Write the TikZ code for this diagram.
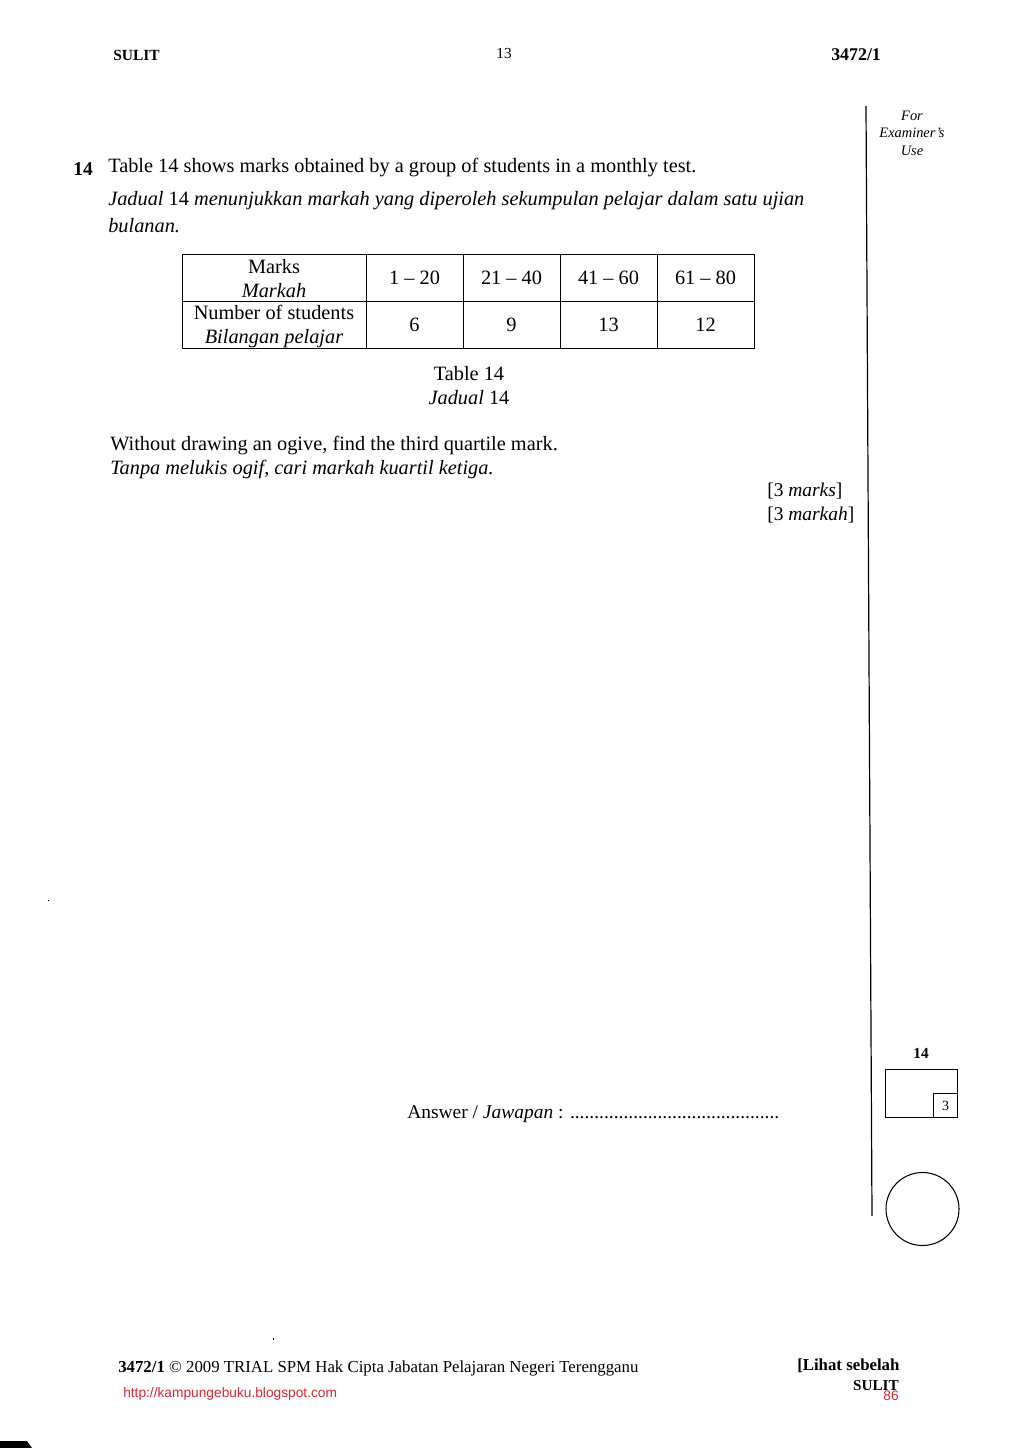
\documentclass[tikz,border=0pt]{standalone}
\usepackage{fontspec}
\setmainfont{Liberation Serif}
\newfontfamily\urlfont{Liberation Sans}
\usetikzlibrary{positioning}
\definecolor{urlred}{RGB}{214,40,50}
\tikzset{
  body/.style={anchor=west,inner sep=0pt,font=\fontsize{15.25}{17}\selectfont},
  bodyit/.style={body,font=\fontsize{15.25}{17}\selectfont\itshape},
  small/.style={inner sep=0pt,font=\fontsize{10.8}{13}\selectfont\itshape},
  cell/.style={draw,line width=0.55pt,inner sep=0pt,minimum height=35.25pt,align=center,font=\fontsize{15.25}{17.8}\selectfont},
  headcell/.style={cell,minimum width=138pt},
  datacell/.style={cell,minimum width=72.75pt},
  foot/.style={anchor=west,inner sep=0pt,font=\fontsize{12.6}{14}\selectfont}
}
\begin{document}
\begin{tikzpicture}[x=0.75pt,y=-0.75pt]
	\useasboundingbox (0,0) rectangle (1024,1448);
	\fill[white] (0,0) rectangle (1024,1448);
	% page head
	\node[foot,font=\fontsize{11.6}{13}\selectfont\bfseries] (sulithead) at (113,55) {SULIT};
	\node[inner sep=0pt,font=\fontsize{11.5}{13}\selectfont] (pageno) at (504,54) {13};
	\node[foot,font=\fontsize{13.4}{14}\selectfont\bfseries] (codehead) at (831,55) {3472/1};
	% examiner column
	\node[small] (for) at (912,116) {For};
	\node[small] (examiner) at (912,133) {Examiner's};
	\node[small] (use) at (912,151) {Use};
	\coordinate (ruletop) at (866,106);
	\coordinate (rulebot) at (872,1216);
	\draw[line width=0.9pt] (ruletop) -- (rulebot);
	% question
	\node[body,font=\fontsize{14.6}{17}\selectfont\bfseries] (qno) at (73,169) {14};
	\node[body] (q1) at (108,168) {Table 14 shows marks obtained by a group of students in a monthly test.};
	\node[bodyit] (q2) at (108,201) {Jadual {\upshape 14} menunjukkan markah yang diperoleh sekumpulan pelajar dalam satu ujian};
	\node[bodyit] (q3) at (108,226) {bulanan.};
	% table
	\node[headcell] (marks) at (274,277.5) {\rule{0pt}{12pt}Marks\\\itshape Markah};
	\node[datacell] (c1) at (414.5,277.5) {1 -- 20};
	\node[datacell] (c2) at (511.5,277.5) {21 -- 40};
	\node[datacell] (c3) at (608.5,277.5) {41 -- 60};
	\node[datacell] (c4) at (705.5,277.5) {61 -- 80};
	\node[headcell] (students) at (274,324.5) {\rule{0pt}{13.5pt}Number of students\\\itshape Bilangan pelajar};
	\node[datacell] (d1) at (414.5,324.5) {6};
	\node[datacell] (d2) at (511.5,324.5) {9};
	\node[datacell] (d3) at (608.5,324.5) {13};
	\node[datacell] (d4) at (705.5,324.5) {12};
	\node[inner sep=0pt,font=\fontsize{15.25}{17}\selectfont] (cap1) at (469,374) {Table 14};
	\node[inner sep=0pt,font=\fontsize{15.25}{17}\selectfont\itshape] (cap2) at (469,398) {Jadual {\upshape 14}};
	% task
	\node[body] (t1) at (110,446) {Without drawing an ogive, find the third quartile mark.};
	\node[bodyit] (t2) at (110,470) {Tanpa melukis ogif, cari markah kuartil ketiga.};
	\node[body,font=\fontsize{14.6}{17}\selectfont] (m1) at (767,491) {[3 \textit{marks}]};
	\node[body,font=\fontsize{14.6}{17}\selectfont] (m2) at (767,515) {[3 \textit{markah}]};
	% answer
	\node[body,font=\fontsize{14.6}{17}\selectfont] (ans) at (407,1114) {Answer / \textit{Jawapan} : ...........................................};
	% mark box
	\node[inner sep=0pt,font=\fontsize{11.5}{13}\selectfont\bfseries] (boxno) at (921,1053) {14};
	\node[draw,line width=0.9pt,minimum width=54pt,minimum height=36pt,inner sep=0pt] (markbox) at (921.5,1093.5) {};
	\node[draw,line width=0.9pt,minimum width=18pt,minimum height=18pt,inner sep=0pt,anchor=south east,font=\fontsize{10.5}{12}\selectfont] (markval) at (markbox.south east) {3};
	\node[draw,circle,line width=0.8pt,minimum size=54.75pt,inner sep=0pt] (tickcircle) at (922.5,1209) {};
	% page foot
	\node[foot] (copy) at (118,1368) {\textbf{3472/1} \copyright\ 2009 TRIAL SPM Hak Cipta Jabatan Pelajaran Negeri Terengganu};
	\node[foot,font=\fontsize{12.6}{14}\selectfont\bfseries] (lihat) at (797,1366) {[Lihat sebelah};
	\node[foot,font=\fontsize{11.4}{14}\selectfont\bfseries,anchor=east] (sulitfoot) at (899,1386) {SULIT};
	\node[foot,font=\fontsize{10.3}{12}\urlfont,text=urlred] (url) at (123,1394) {http://kampungebuku.blogspot.com};
	\node[foot,font=\fontsize{10.3}{12}\urlfont,text=urlred,anchor=east] (leaf) at (899,1396) {86};
	% scan marks
	\fill (0,1441) -- (27,1441) -- (32,1448) -- (0,1448) -- cycle;
	\fill (272.5,1338) rectangle (274,1340);
	\fill (47.5,899.5) rectangle (49,901);
\end{tikzpicture}
\end{document}
